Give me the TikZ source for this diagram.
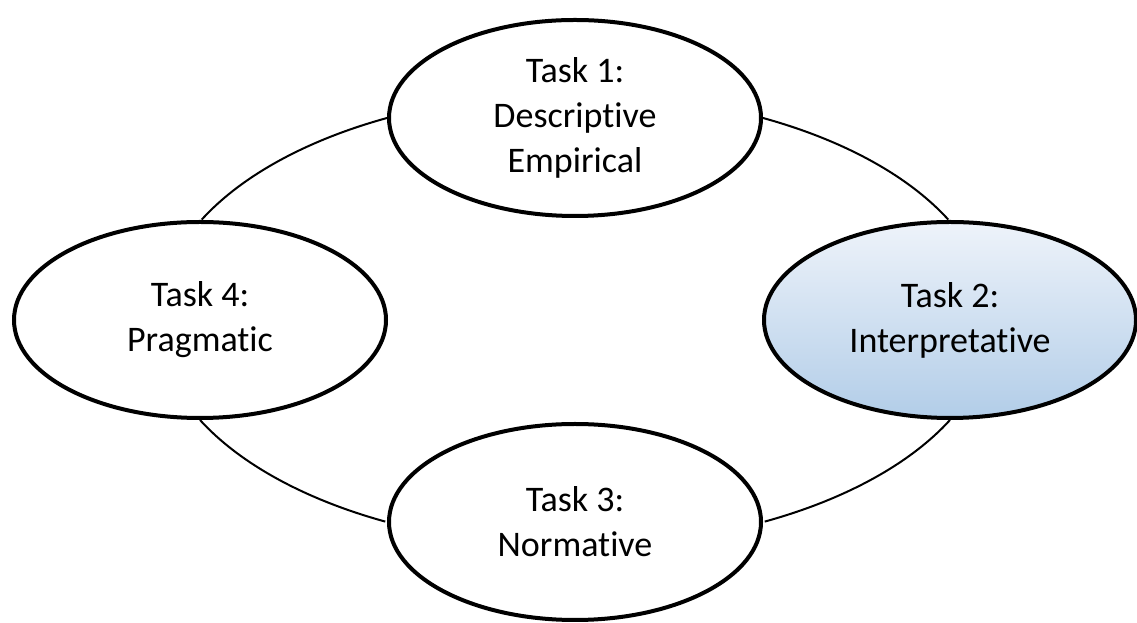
\documentclass[tikz,border=0pt]{standalone}
\usepackage{fontspec}
\setmainfont[Ligatures=NoCommon]{Carlito}
\usetikzlibrary{shapes.geometric}
\definecolor{shadetop}{RGB}{238,243,250}
\definecolor{shadebottom}{RGB}{178,205,232}
\begin{document}
\begin{tikzpicture}[x=1pt,y=1pt,
  task/.style={ellipse, draw=black, line width=4pt, fill=white,
    minimum width=372pt, minimum height=196pt, inner sep=0pt,
    align=center, font=\fontsize{36}{45}\selectfont},
  ring/.style={line width=2pt, draw=black},
  ringarc/.style={x radius=418pt, y radius=226pt}]
\useasboundingbox (0,0) rectangle (1137,623);

% the four tasks
\node[task] (t1) at (575,505) {Task 1:\\Descriptive\\Empirical};
\node[task, top color=shadetop, bottom color=shadebottom] (t2) at (950,303) {Task 2:\\Interpretative};
\node[task] (t3) at (575,101) {Task 3:\\Normative};
\node[task] (t4) at (200,303) {Task 4:\\Pragmatic};

% ring joining the tasks
\draw[ring] (t1.west) arc[ringarc, start angle=117, end angle=153.8];
\draw[ring] (t1.east) arc[ringarc, start angle=63, end angle=26.2];
\draw[ring] (t2.south) arc[ringarc, start angle=-26.2, end angle=-63];
\draw[ring] (t4.south) arc[ringarc, start angle=206.2, end angle=243];
\end{tikzpicture}
\end{document}
